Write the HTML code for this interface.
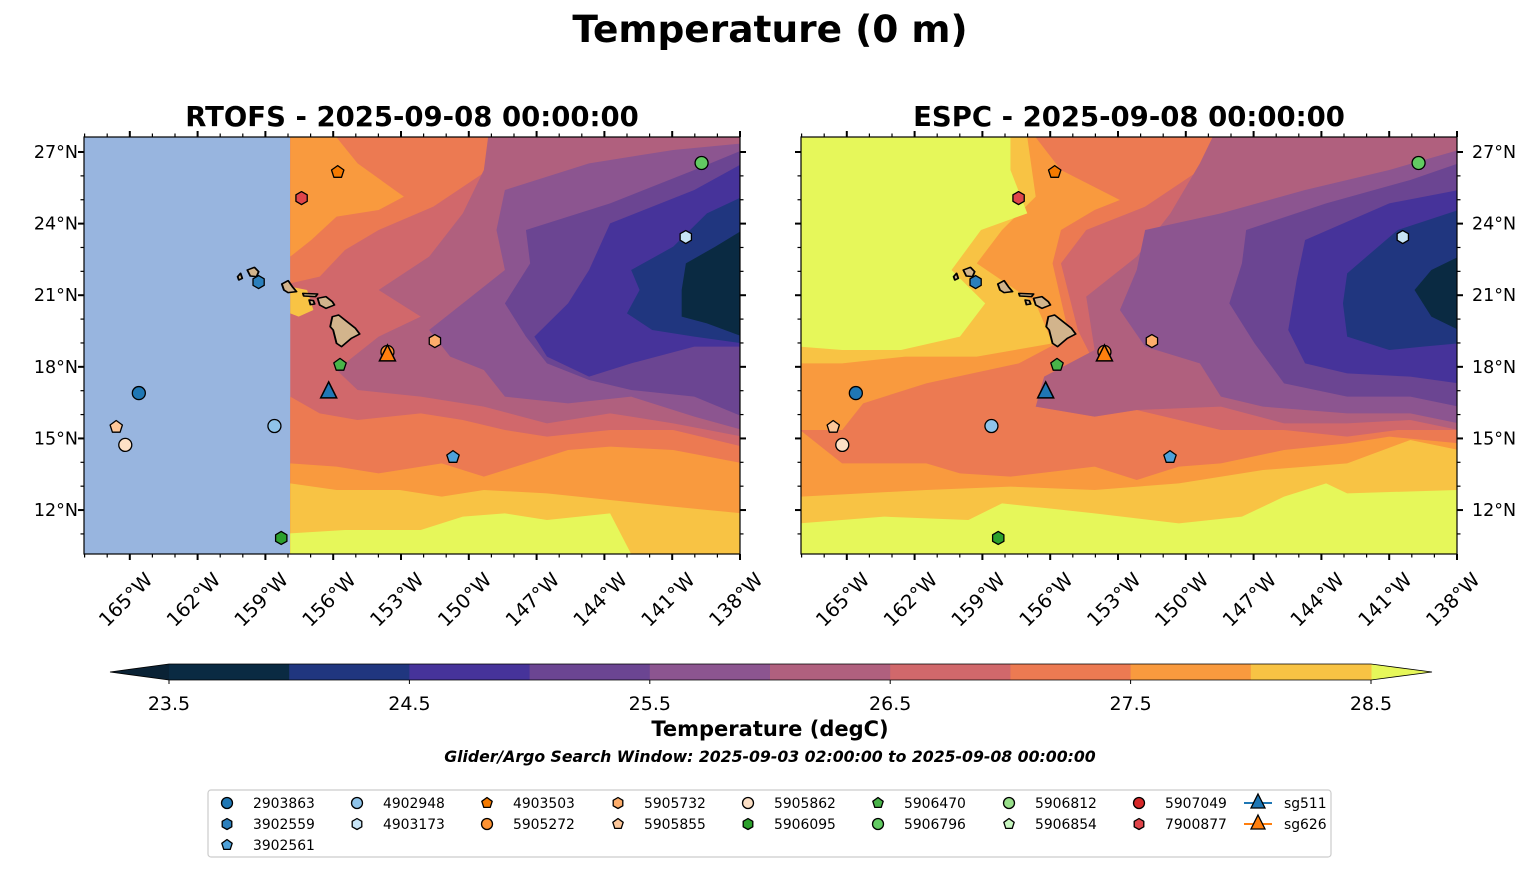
<!DOCTYPE html>
<html><head><meta charset="utf-8"><style>
html,body{margin:0;padding:0;background:#fff;}
svg text{font-family:"DejaVu Sans","Liberation Sans",sans-serif;}
</style></head><body>
<svg id="fig" width="1540" height="889" viewBox="0 0 1540 889" xmlns="http://www.w3.org/2000/svg">
<defs>
<clipPath id="clipL"><rect x="84" y="137" width="656" height="417"/></clipPath>
<clipPath id="clipR"><rect x="801" y="137" width="656" height="417"/></clipPath>
</defs>
<text x="770" y="42" text-anchor="middle" font-size="37.5" font-weight="bold">Temperature (0 m)</text>
<text x="412" y="126" text-anchor="middle" font-size="27.5" font-weight="bold">RTOFS - 2025-09-08 00:00:00</text>
<text x="1129" y="126" text-anchor="middle" font-size="27.5" font-weight="bold">ESPC - 2025-09-08 00:00:00</text>
<g id="mapL" clip-path="url(#clipL)"></g>
<g id="mapR" clip-path="url(#clipR)"></g>
<g id="axes"></g>
<g id="markers"></g>
<g id="cbar"></g>
<text x="770" y="736" text-anchor="middle" font-size="21" font-weight="bold">Temperature (degC)</text>
<text x="770" y="762" text-anchor="middle" font-size="15.7" font-weight="bold" font-style="italic">Glider/Argo Search Window: 2025-09-03 02:00:00 to 2025-09-08 00:00:00</text>
<rect x="208" y="790" width="1123" height="67" rx="3" fill="#fff" stroke="#cccccc" stroke-width="1.2"/>
<g id="legend"></g>
</svg>
<script>
// ---- data ----
const levels = [23.5,24,24.5,25,25.5,26,26.5,27,27.5,28,28.5];
const levelColors = ["#0a2a42","#20367f","#46339a","#6b4592","#8c5590","#b0607e","#d1686b","#ec7a52","#f99a3e","#f8c344"];
const overColor = "#e6f75a", underColor = "#0a2235";
const cbarTicks = [23.5,24.5,25.5,26.5,27.5,28.5];
const lonTicks = [-165,-162,-159,-156,-153,-150,-147,-144,-141,-138];
const latTicks = [12,15,18,21,24,27];
const floatIds = ["4903503","7900877","5906796","4903173","3902559","5905732","5905272","5906470","2903863","4902948","5905855","5905862","3902561","5906095"];
const floatLon = [-155.8,-157.4,-139.7,-140.4,-159.3,-151.5,-153.6,-155.7,-164.6,-158.6,-165.6,-165.2,-150.7,-158.3];
const floatLat = [26.16,25.07,26.54,23.44,21.55,19.08,18.62,18.08,16.9,15.52,15.48,14.73,14.22,10.83];
const gliderIds = ["sg511","sg626"];
const gliderLon = [-156.2,-153.6];
const gliderLat = [16.95,18.5];
// ---- styles ----
const mk = {"2903863":["o","#1f77b4"],"3902559":["h","#2b7fbc"],"3902561":["p","#4ea1d9"],"4902948":["o","#8fc4ea"],"4903173":["h","#c8e5f7"],"4903503":["p","#f57a00"],"5905272":["o","#fd9232"],"5905732":["h","#fdad6b"],"5905855":["p","#fdc79a"],"5905862":["o","#fde0c6"],"5906095":["h","#2ca02c"],"5906470":["p","#49b449"],"5906796":["o","#62cb62"],"5906812":["o","#98df8a"],"5906854":["p","#c8f6c0"],"5907049":["o","#d62728"],"7900877":["h","#e0454a"]};
const NS="http://www.w3.org/2000/svg";
function el(t,a,p){const e=document.createElementNS(NS,t);for(const k in a)e.setAttribute(k,a[k]);(p||document.getElementById('fig')).appendChild(e);return e;}
const maps=[{x0:84,name:'rtofs'},{x0:801,name:'espc'}];
const Y0=137,W=656,H=417;
function xOf(m,lon){return m.x0+W-(-138-lon)*22.6;}
function yOf(lat){return 152+(27-lat)*23.87;}

// ---- fields (contour regions, zoom coords) ----
const L=[
 ["#d1686b","490,22 1565,22 1565,1272 490,1272"],
 ["#ec7a52","490,22 980,22 960,120 830,230 700,300 620,360 560,440 490,460"],
 ["#ec7a52","490,800 560,850 650,870 800,850 900,870 1000,900 1100,920 1250,900 1400,900 1565,950 1565,1272 490,1272"],
 ["#f99a3e","490,22 600,22 650,100 760,200 700,240 600,260 540,330 490,380"],
 ["#f99a3e","490,1000 600,1010 700,1030 850,1000 950,1040 1050,1000 1150,960 1250,950 1400,960 1565,1000 1565,1272 490,1272"],
 ["#f8c344","490,1060 600,1080 750,1080 850,1100 950,1080 1100,1090 1250,1110 1400,1130 1565,1150 1565,1272 490,1272"],
 ["#f8c344","490,470 530,480 545,540 510,560 490,550"],
 ["#e6f75a","490,1210 620,1200 800,1200 900,1160 1000,1150 1100,1170 1250,1150 1300,1272 490,1272"],
 ["#b0607e","960,22 1565,22 1565,920 1400,880 1250,850 1100,880 950,830 800,800 650,780 600,720 700,620 800,560 700,480 820,380 900,250 950,120"],
 ["#8c5590","1000,180 1200,100 1400,60 1565,40 1565,900 1450,860 1300,800 1150,820 1000,800 950,720 870,680 820,600 900,520 1000,420 980,300"],
 ["#6b4592","1050,300 1250,220 1450,120 1565,60 1565,860 1450,800 1300,780 1200,750 1100,700 1050,620 1000,520 1060,400"],
 ["#46339a","1250,280 1450,180 1565,100 1565,650 1450,650 1300,700 1200,740 1100,680 1070,620 1150,520 1200,420"],
 ["#20367f","1300,420 1400,350 1480,250 1565,200 1565,640 1450,620 1350,600 1290,550 1320,480"],
 ["#0a2a42","1430,400 1500,350 1565,300 1565,620 1480,580 1420,560 1420,480"]
];
const R=[
 ["#d1686b","0,22 1565,22 1565,1272 0,1272"],
 ["#ec7a52","0,22 1000,22 950,120 820,230 680,300 620,400 660,600 700,700 600,750 560,830 700,860 800,840 900,870 1000,900 1150,900 1300,920 1420,900 1565,900 1565,1272 0,1272"],
 ["#f99a3e","0,22 560,22 620,120 760,210 700,240 620,300 600,400 640,620 520,700 300,760 150,820 100,900 0,900"],
 ["#f99a3e","0,900 100,1000 300,1000 380,1030 500,1040 700,1010 800,1050 900,1010 1000,1000 1150,960 1300,940 1400,920 1565,940 1565,1272 0,1272"],
 ["#f8c344","0,22 540,22 560,200 480,300 420,400 560,520 600,640 420,680 250,680 100,700 0,700"],
 ["#f8c344","0,1100 300,1080 500,1070 700,1080 900,1060 1100,1020 1300,1000 1450,930 1565,960 1565,1272 0,1272"],
 ["#e6f75a","0,22 500,22 500,120 540,250 430,300 360,420 440,520 380,620 240,660 100,660 0,650"],
 ["#e6f75a","0,1180 200,1160 400,1170 480,1120 700,1150 900,1180 1050,1160 1150,1100 1250,1060 1300,1090 1565,1080 1565,1272 0,1272"],
 ["#b0607e","980,22 1565,22 1565,900 1450,870 1300,880 1150,880 1000,830 800,840 700,860 560,830 580,740 700,660 680,500 800,380 880,250 950,100"],
 ["#8c5590","820,300 1000,250 1200,180 1400,120 1565,60 1565,880 1450,850 1300,850 1100,830 1000,800 950,700 820,650 760,540 800,420"],
 ["#6b4592","1060,300 1250,220 1450,150 1565,100 1565,830 1450,800 1300,800 1150,760 1080,640 1020,520 1050,400"],
 ["#46339a","1200,330 1400,220 1565,180 1565,760 1450,740 1300,730 1200,700 1160,600 1180,450"],
 ["#20367f","1300,430 1420,300 1565,240 1565,640 1480,650 1400,660 1300,620 1290,520"],
 ["#0a2a42","1500,420 1565,380 1565,600 1500,560 1460,480"]
];
const islands=["590,560 605,555 625,575 645,595 655,612 635,625 612,650 600,640 592,600 585,590","555,505 575,500 590,515 595,525 575,535 560,525","520,490 555,492 550,500 522,498","470,462 485,452 495,470 505,485 485,488 475,480","388,420 405,412 415,425 410,440 395,438","365,440 372,430 376,445 368,450","535,510 545,512 548,522 538,524"];
function drawField(gid,x0,layers,isL){
 const g=document.getElementById(gid);
 const t=el('g',{transform:`translate(${x0},130) scale(0.4209,0.33333)`},g);
 if(isL){ el('rect',{x:0,y:0,width:1600,height:1300,fill:'#98b5df'},t); }
 layers.forEach(l=>{ const p=el('polygon',{points:l[1],fill:l[0]},t);   });
 islands.forEach(s=>{ const p=el('polygon',{points:s,fill:'#d2b48c',stroke:'#000','stroke-width':4.5,'stroke-linejoin':'round'},t);   });
}
drawField('mapL',84,L,true);
drawField('mapR',800,R,false);

// ---- axes ----
const ax=document.getElementById('axes');
maps.forEach((m,mi)=>{
 const f=el('rect',{x:m.x0,y:Y0,width:W,height:H,fill:'none',stroke:'#000','stroke-width':1.2},ax);
 
 for(let lon=-167;lon<=-138;lon++){
  const x=xOf(m,lon); if(x<m.x0-0.5)continue;
  const maj=lonTicks.includes(lon); const len=maj?6:3.5;
  el('line',{x1:x,x2:x,y1:Y0,y2:Y0-len,stroke:'#000','stroke-width':maj?2:1.2},ax);
  el('line',{x1:x,x2:x,y1:Y0+H,y2:Y0+H+len,stroke:'#000','stroke-width':maj?2:1.2},ax);
 }
 lonTicks.forEach(lon=>{const x=xOf(m,lon);
  const t=el('text',{x:x+24,y:581,'text-anchor':'end','font-size':19.5,transform:`rotate(-45 ${x+24} 581)`},ax);
  t.textContent=(-lon)+'°W';  });
 for(let lat=11;lat<=27;lat++){
  const y=yOf(lat); const maj=latTicks.includes(lat); const len=maj?6:3.5;
  el('line',{x1:m.x0,x2:m.x0-len,y1:y,y2:y,stroke:'#000','stroke-width':maj?2:1.2},ax);
  el('line',{x1:m.x0+W,x2:m.x0+W+len,y1:y,y2:y,stroke:'#000','stroke-width':maj?2:1.2},ax);
 }
 latTicks.forEach(lat=>{const y=yOf(lat);
  const t=mi==0?el('text',{x:78,y:y+6,'text-anchor':'end','font-size':17.5},ax):el('text',{x:1472,y:y+6,'font-size':17.5},ax);
  t.textContent=lat+'°N';  });
});

// ---- markers ----
function shape(type,cx,cy,r,fill,parent){
 let e;
 if(type==='o') e=el('ellipse',{cx:cx,cy:cy,rx:r,ry:r,fill:fill,stroke:'#000','stroke-width':1.3},parent);
 else{ const n=type==='h'?6:5; const off=type==='h'?0:-Math.PI/2; const pts=[];
  for(let i=0;i<n;i++){const a=off+i*2*Math.PI/n; pts.push((cx+r*Math.cos(a)).toFixed(1)+','+(cy+r*Math.sin(a)).toFixed(1));}
  e=el('polygon',{points:pts.join(' '),fill:fill,stroke:'#000','stroke-width':1.3,'stroke-linejoin':'round'},parent);
  if(type==='h'){e.setAttribute('transform',`rotate(90 ${cx} ${cy})`);} }
 return e;
}
const mg=document.getElementById('markers');
maps.forEach(m=>{
 floatIds.forEach((id,i)=>{const s=mk[id];
  const e=shape(s[0],xOf(m,floatLon[i]),yOf(floatLat[i]),6.5,s[1],mg);
   });
 gliderIds.forEach((id,i)=>{const cx=xOf(m,gliderLon[i]),cy=yOf(gliderLat[i]);
  const e=el('polygon',{points:`${cx},${cy-10} ${cx+8},${cy+6} ${cx-8},${cy+6}`,fill:i==0?'#1f77b4':'#ff7f0e',stroke:'#000','stroke-width':1.5},mg);
   });
});

// ---- colorbar ----
const cb=document.getElementById('cbar');
const cx0=169,cx1=1371,cy0=664,cy1=680;
function cbx(v){return cx0+(v-levels[0])/(levels[levels.length-1]-levels[0])*(cx1-cx0);}
el('polygon',{points:`110,672 ${cx0},${cy0} ${cx0},${cy1}`,fill:underColor},cb);
el('polygon',{points:`1432,672 ${cx1},${cy0} ${cx1},${cy1}`,fill:overColor},cb);
for(let i=0;i<levels.length-1;i++){
 const r=el('rect',{x:cbx(levels[i]),y:cy0,width:cbx(levels[i+1])-cbx(levels[i])+0.5,height:cy1-cy0,fill:levelColors[i]},cb);
  
}
el('polygon',{points:`110,672 ${cx0},${cy0} ${cx1},${cy0} 1432,672 ${cx1},${cy1} ${cx0},${cy1}`,fill:'none',stroke:'#000','stroke-width':0.8},cb);
cbarTicks.forEach(v=>{const x=cbx(v);
 el('line',{x1:x,x2:x,y1:cy1,y2:cy1+4,stroke:'#000','stroke-width':1},cb);
 const t=el('text',{x:x,y:710,'text-anchor':'middle','font-size':19},cb); t.textContent=v.toFixed(1);
  });

// ---- legend ----
const lg=document.getElementById('legend');
const colX=[227,357,487,618,748,878,1009,1139];
const colItems=[["2903863","3902559","3902561"],["4902948","4903173"],["4903503","5905272"],["5905732","5905855"],["5905862","5906095"],["5906470","5906796"],["5906812","5906854"],["5907049","7900877"]];
const rowY=[803,824,845];
colItems.forEach((col,ci)=>col.forEach((id,ri)=>{
 const s=mk[id]; const e=shape(s[0],colX[ci],rowY[ri],5.5,s[1],lg);
  
 const t=el('text',{x:colX[ci]+26,y:rowY[ri]+5,'font-size':13.9},lg); t.textContent=id;
  
}));
gliderIds.forEach((id,i)=>{const cx=1258,cy=rowY[i];const c=i==0?'#1f77b4':'#ff7f0e';
 el('line',{x1:cx-14,x2:cx+14,y1:cy,y2:cy,stroke:c,'stroke-width':2},lg);
 const e=el('polygon',{points:`${cx},${cy-9} ${cx+7},${cy+5} ${cx-7},${cy+5}`,fill:c,stroke:'#000','stroke-width':1.3},lg);
  
 const t=el('text',{x:cx+26,y:cy+5,'font-size':13.9},lg); t.textContent=id;
  
});
</script>
</body></html>
